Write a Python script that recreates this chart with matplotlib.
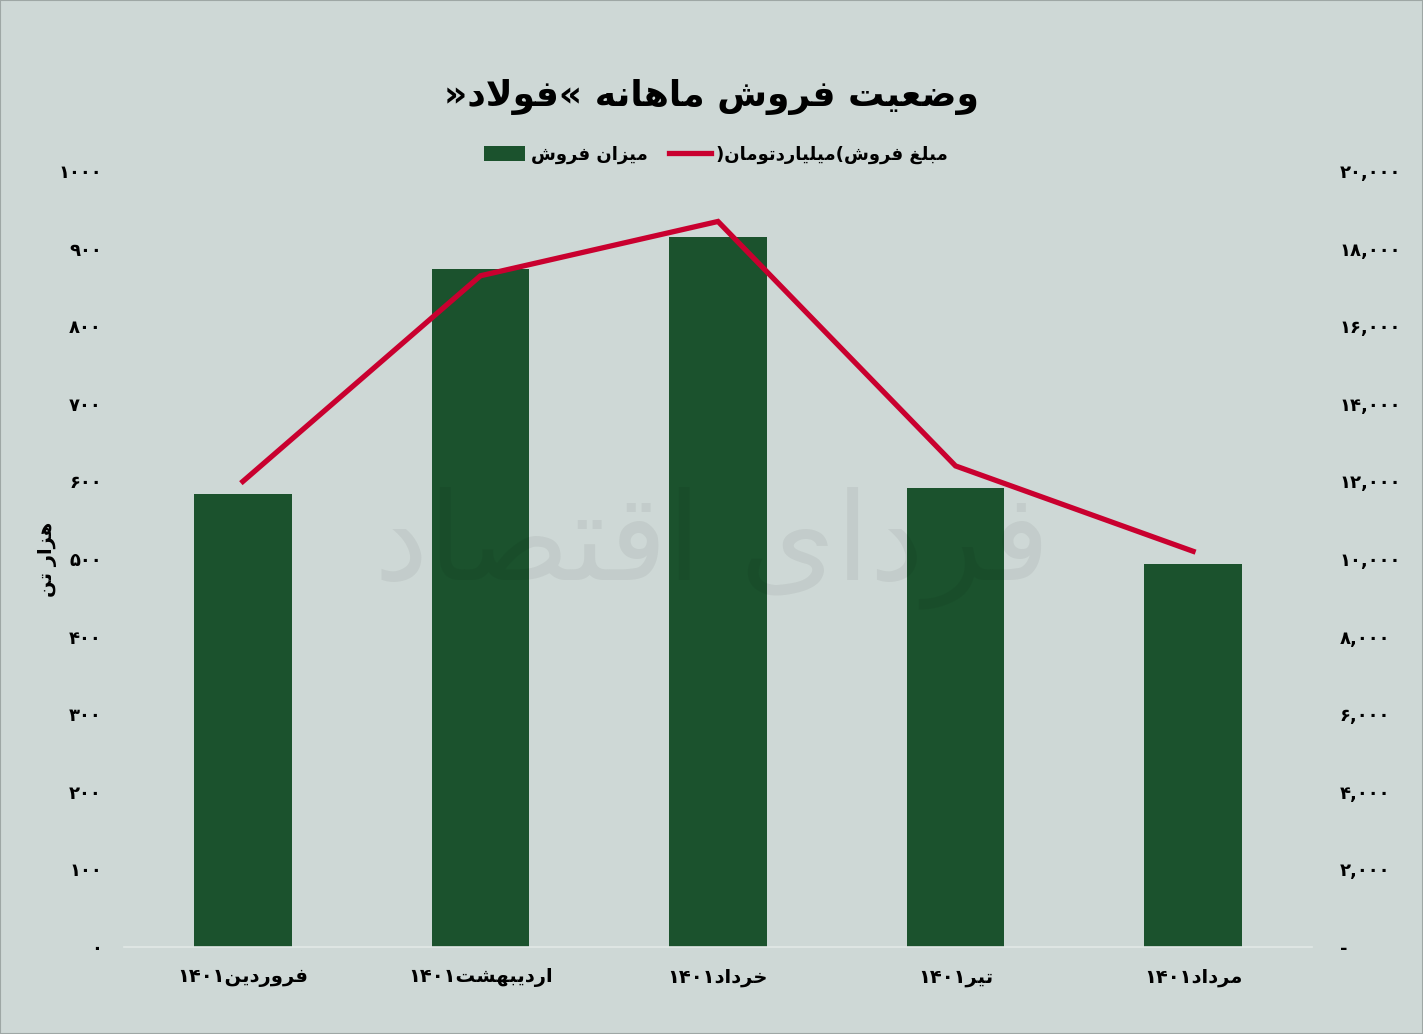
import matplotlib
matplotlib.use("Agg")
import matplotlib.pyplot as plt
from matplotlib.patches import Rectangle

# ---------------- data ----------------
months = ["فروردین۱۴۰۱", "اردیبهشت۱۴۰۱", "خرداد۱۴۰۱", "تیر۱۴۰۱", "مرداد۱۴۰۱"]
sales_volume = [584, 874, 915, 591, 494]          # هزار تن
sales_amount = [12000, 17300, 18700, 12400, 10200]  # میلیارد تومان
left_ticks = [0, 100, 200, 300, 400, 500, 600, 700, 800, 900, 1000]
right_ticks = [0, 2000, 4000, 6000, 8000, 10000, 12000, 14000, 16000, 18000, 20000]
title_text = "وضعیت فروش ماهانه «فولاد»"
bar_label = "میزان فروش"
line_label = "مبلغ فروش(میلیاردتومان)"
ylabel_text = "هزار تن"
watermark_text = "فردای اقتصاد"

# ---------------- simple Arabic/Persian shaping ----------------
FORMS = {
    'ا': (0xFE8D, 0xFE8E, None, None), 'آ': (0xFE81, 0xFE82, None, None),
    'ب': (0xFE8F, 0xFE90, 0xFE91, 0xFE92), 'پ': (0xFB56, 0xFB57, 0xFB58, 0xFB59),
    'ت': (0xFE95, 0xFE96, 0xFE97, 0xFE98), 'ث': (0xFE99, 0xFE9A, 0xFE9B, 0xFE9C),
    'ج': (0xFE9D, 0xFE9E, 0xFE9F, 0xFEA0), 'چ': (0xFB7A, 0xFB7B, 0xFB7C, 0xFB7D),
    'ح': (0xFEA1, 0xFEA2, 0xFEA3, 0xFEA4), 'خ': (0xFEA5, 0xFEA6, 0xFEA7, 0xFEA8),
    'د': (0xFEA9, 0xFEAA, None, None), 'ذ': (0xFEAB, 0xFEAC, None, None),
    'ر': (0xFEAD, 0xFEAE, None, None), 'ز': (0xFEAF, 0xFEB0, None, None),
    'ژ': (0xFB8A, 0xFB8B, None, None),
    'س': (0xFEB1, 0xFEB2, 0xFEB3, 0xFEB4), 'ش': (0xFEB5, 0xFEB6, 0xFEB7, 0xFEB8),
    'ص': (0xFEB9, 0xFEBA, 0xFEBB, 0xFEBC), 'ض': (0xFEBD, 0xFEBE, 0xFEBF, 0xFEC0),
    'ط': (0xFEC1, 0xFEC2, 0xFEC3, 0xFEC4), 'ظ': (0xFEC5, 0xFEC6, 0xFEC7, 0xFEC8),
    'ع': (0xFEC9, 0xFECA, 0xFECB, 0xFECC), 'غ': (0xFECD, 0xFECE, 0xFECF, 0xFED0),
    'ف': (0xFED1, 0xFED2, 0xFED3, 0xFED4), 'ق': (0xFED5, 0xFED6, 0xFED7, 0xFED8),
    'ک': (0xFB8E, 0xFB8F, 0xFB90, 0xFB91), 'گ': (0xFB92, 0xFB93, 0xFB94, 0xFB95),
    'ل': (0xFEDD, 0xFEDE, 0xFEDF, 0xFEE0), 'م': (0xFEE1, 0xFEE2, 0xFEE3, 0xFEE4),
    'ن': (0xFEE5, 0xFEE6, 0xFEE7, 0xFEE8), 'ه': (0xFEE9, 0xFEEA, 0xFEEB, 0xFEEC),
    'و': (0xFEED, 0xFEEE, None, None), 'ی': (0xFBFC, 0xFBFD, 0xFBFE, 0xFBFF),
}
DIGITS = set("۰۱۲۳۴۵۶۷۸۹0123456789")


def shape(text):
    out = []
    i = 0
    n = len(text)
    while i < n:
        c = text[i]
        if c not in FORMS:
            out.append(c)
            i += 1
            continue
        p = text[i - 1] if i > 0 else None
        conn_prev = p in FORMS and FORMS[p][2] is not None
        nx = text[i + 1] if i + 1 < n else None
        if c == 'ل' and nx in ('ا', 'آ'):
            out.append(chr(0xFEFC if conn_prev else 0xFEFB))
            i += 2
            continue
        iso, fin, ini, med = FORMS[c]
        conn_next = ini is not None and nx in FORMS
        if conn_prev and conn_next:
            code = med
        elif conn_prev:
            code = fin
        elif conn_next:
            code = ini
        else:
            code = iso
        out.append(chr(code))
        i += 1
    # visual order: reverse, but keep digit runs left-to-right
    rev = out[::-1]
    res = []
    j = 0
    while j < len(rev):
        if rev[j] in DIGITS:
            k = j
            while k < len(rev) and rev[k] in DIGITS:
                k += 1
            res.extend(rev[j:k][::-1])
            j = k
        else:
            res.append(rev[j])
            j += 1
    return "".join(res)


def fa_num(s):
    return s.translate(str.maketrans("0123456789", "۰۱۲۳۴۵۶۷۸۹"))


# ---------------- style ----------------
plt.rcParams['font.family'] = ['DejaVu Sans']
BG = "#CED8D6"
BAR = "#1B522D"
LINE = "#C9002F"

fig = plt.figure(figsize=(14.23, 10.34), dpi=100, facecolor=BG)
fig.patches.append(Rectangle((0, 0), 1, 1, transform=fig.transFigure,
                             fill=False, edgecolor="#9EA7A5", linewidth=1.5))

ax = fig.add_axes([0.0872, 0.0841, 0.8347, 0.7505])
ax.set_facecolor("none")
x = list(range(len(months)))
bars = ax.bar(x, sales_volume, width=0.41, color=BAR, zorder=2, label=shape(bar_label))
ax.set_xlim(-0.5, len(months) - 0.5)
ax.set_ylim(0, 1000)
ax.set_yticks(left_ticks)
ax.set_yticklabels([fa_num(str(v)) for v in left_ticks], fontsize=13, fontweight='bold')
ax.set_xticks(x)
ax.set_xticklabels([shape(m) for m in months], fontsize=14, fontweight='bold')
ax.tick_params(axis='y', length=0, pad=16)
ax.tick_params(axis='x', length=0, pad=15)
for s in ['top', 'left', 'right']:
    ax.spines[s].set_visible(False)
ax.spines['bottom'].set_color("#E2E8E6")
ax.spines['bottom'].set_linewidth(1.2)
ax.set_ylabel(shape(ylabel_text), fontsize=14, fontweight='bold', labelpad=1)

ax2 = ax.twinx()
line, = ax2.plot(x, sales_amount, color=LINE, linewidth=3.8, zorder=3,
                 solid_joinstyle='miter', label=shape(line_label))
ax2.set_ylim(0, 20000)
ax2.set_yticks(right_ticks)
ax2.set_yticklabels(["-" if v == 0 else fa_num(f"{v:,}") for v in right_ticks],
                    fontsize=13, fontweight='bold')
ax2.tick_params(axis='y', length=0, pad=20)
for s in ['top', 'left', 'right', 'bottom']:
    ax2.spines[s].set_visible(False)

# watermark
fig.text(0.5, 0.47, shape(watermark_text), fontsize=88, color="black", alpha=0.05,
         ha='center', va='center', rotation=0, zorder=10)

fig.text(0.5, 1 - 97 / 1034, shape(title_text), fontsize=26, fontweight='bold',
         ha='center', va='center')

leg = fig.legend([bars, line], [shape(bar_label), shape(line_label)],
                 loc='center', bbox_to_anchor=(0.503, 1 - 155 / 1034), ncol=2,
                 frameon=False, prop={'size': 13, 'weight': 'bold'},
                 handlelength=2.3, handleheight=0.9, handletextpad=0.3,
                 columnspacing=1.2)

fig.savefig("out.png", dpi=100, facecolor=BG)
